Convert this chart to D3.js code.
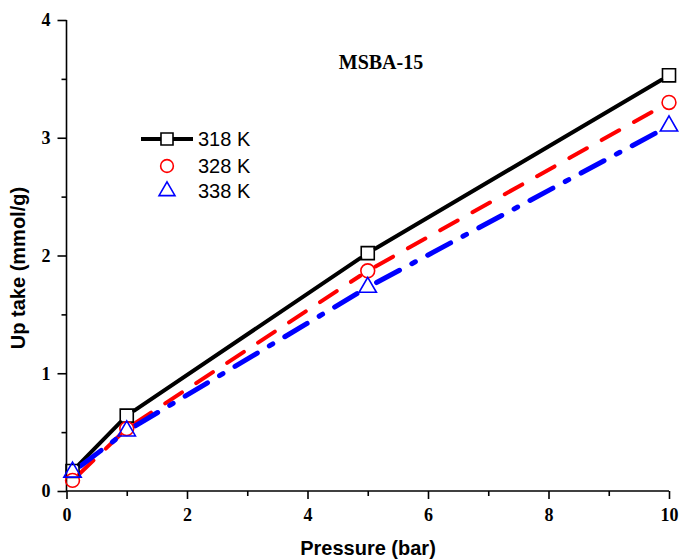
<!DOCTYPE html>
<html><head><meta charset="utf-8">
<script src="https://cdn.jsdelivr.net/npm/d3@7"></script>
<style>body{margin:0;background:#fff}</style>
</head><body>
<svg id="c" width="681" height="560"></svg>
<script>
const pressure = [0.1, 1, 5, 10];
const uptake318 = [0.17, 0.64, 2.02, 3.53];
const uptake328 = [0.09, 0.53, 1.87, 3.30];
const uptake338 = [0.16, 0.51, 1.73, 3.10];
const seriesNames = ["318 K", "328 K", "338 K"];
const xTicks = [0, 2, 4, 6, 8, 10];
const yTicks = [0, 1, 2, 3, 4];
const titleText = "MSBA-15";

const svg = d3.select("#c");
const x = d3.scaleLinear().domain([0, 10]).range([66.5, 669]);
const y = d3.scaleLinear().domain([0, 4]).range([491, 20]);
const serif = "'Liberation Serif','Times New Roman',serif";
const sans = "'Liberation Sans',Arial,sans-serif";

// axes
const gx = svg.append("g").attr("transform", `translate(0,${y(0)})`)
  .call(d3.axisBottom(x).tickValues(xTicks).tickSize(8).tickPadding(9).tickFormat(d3.format("d")));
const gy = svg.append("g").attr("transform", `translate(${x(0)},0)`)
  .call(d3.axisLeft(y).tickValues(yTicks).tickSize(9).tickPadding(7).tickFormat(d3.format("d")));
// minor ticks
svg.append("g").attr("transform", `translate(0,${y(0)})`)
  .call(d3.axisBottom(x).tickValues([1,3,5,7,9]).tickSize(5).tickFormat(""))
  .select(".domain").remove();
svg.append("g").attr("transform", `translate(${x(0)},0)`)
  .call(d3.axisLeft(y).tickValues([0.5,1.5,2.5,3.5]).tickSize(5).tickFormat(""))
  .select(".domain").remove();
svg.selectAll(".domain, .tick line").attr("stroke", "#000").attr("stroke-width", 1.6);
gx.selectAll(".tick text").attr("font-family", serif).attr("font-weight", "bold").attr("font-size", 18).attr("fill","#000");
gy.selectAll(".tick text").attr("font-family", serif).attr("font-weight", "bold").attr("font-size", 18).attr("fill","#000");
gx.select(".domain").attr("d", `M${x(0)},0H${x(10)}`);
gy.select(".domain").attr("d", `M0,${y(0)}V${y(4)}`);

// axis titles
svg.append("text").attr("x", 368).attr("y", 555).attr("text-anchor", "middle")
  .attr("font-family", sans).attr("font-weight", "bold").attr("font-size", 20).text("Pressure (bar)");
svg.append("text").attr("transform", "translate(25,268) rotate(-90)").attr("text-anchor", "middle")
  .attr("font-family", sans).attr("font-weight", "bold").attr("font-size", 20).text("Up take (mmol/g)");
svg.append("text").attr("x", 381).attr("y", 69).attr("text-anchor", "middle")
  .attr("font-family", serif).attr("font-weight", "bold").attr("font-size", 20).text(titleText);

const series = [
  {name: seriesNames[0], vals: uptake318, color: "#000", dash: null, width: 4, sym: d3.symbolSquare, symSize: 170, gap: 9},
  {name: seriesNames[1], vals: uptake328, color: "#ff0000", dash: "20,17", width: 4, sym: d3.symbolCircle, symSize: 150, gap: 9},
  {name: seriesNames[2], vals: uptake338, color: "#0000ff", dash: "26,14,4,14", width: 5, sym: d3.symbolTriangle, symSize: 130, gap: 10}
];

// lines (segments with gaps at markers)
series.forEach(s => {
  const g = svg.append("g");
  for (let i = 0; i < pressure.length - 1; i++) {
    const x1 = x(pressure[i]), y1 = y(s.vals[i]), x2 = x(pressure[i+1]), y2 = y(s.vals[i+1]);
    const L = Math.hypot(x2-x1, y2-y1), ux = (x2-x1)/L, uy = (y2-y1)/L;
    g.append("line")
      .attr("x1", x1 + ux*s.gap).attr("y1", y1 + uy*s.gap)
      .attr("x2", x2 - ux*s.gap).attr("y2", y2 - uy*s.gap)
      .attr("stroke", s.color).attr("stroke-width", s.width)
      .attr("stroke-linecap", "round")
      .attr("stroke-dasharray", s.dash);
  }
});
// markers
series.forEach(s => {
  svg.append("g").selectAll("path").data(pressure.map((p,i)=>[p, s.vals[i]])).join("path")
    .attr("transform", d => `translate(${x(d[0])},${y(d[1])})`)
    .attr("d", d3.symbol().type(s.sym).size(s.symSize))
    .attr("fill", "none").attr("stroke", s.color).attr("stroke-width", 1.6);
});

// legend
const lg = svg.append("g");
const legY = [139, 166, 191];
lg.append("line").attr("x1", 141).attr("x2", 193).attr("y1", legY[0]).attr("y2", legY[0])
  .attr("stroke", "#000").attr("stroke-width", 4);
series.forEach((s, i) => {
  if (i === 0) lg.append("rect").attr("x", 161).attr("y", legY[0]-6).attr("width", 12).attr("height", 12).attr("fill","#fff");
  lg.append("path").attr("transform", `translate(167,${legY[i]})`)
    .attr("d", d3.symbol().type(s.sym).size(s.symSize * 0.85))
    .attr("fill", "none").attr("stroke", s.color).attr("stroke-width", 1.6);
  lg.append("text").attr("x", 198).attr("y", legY[i] + 7)
    .attr("font-family", sans).attr("font-size", 20).text(s.name);
});
</script>
</body></html>
